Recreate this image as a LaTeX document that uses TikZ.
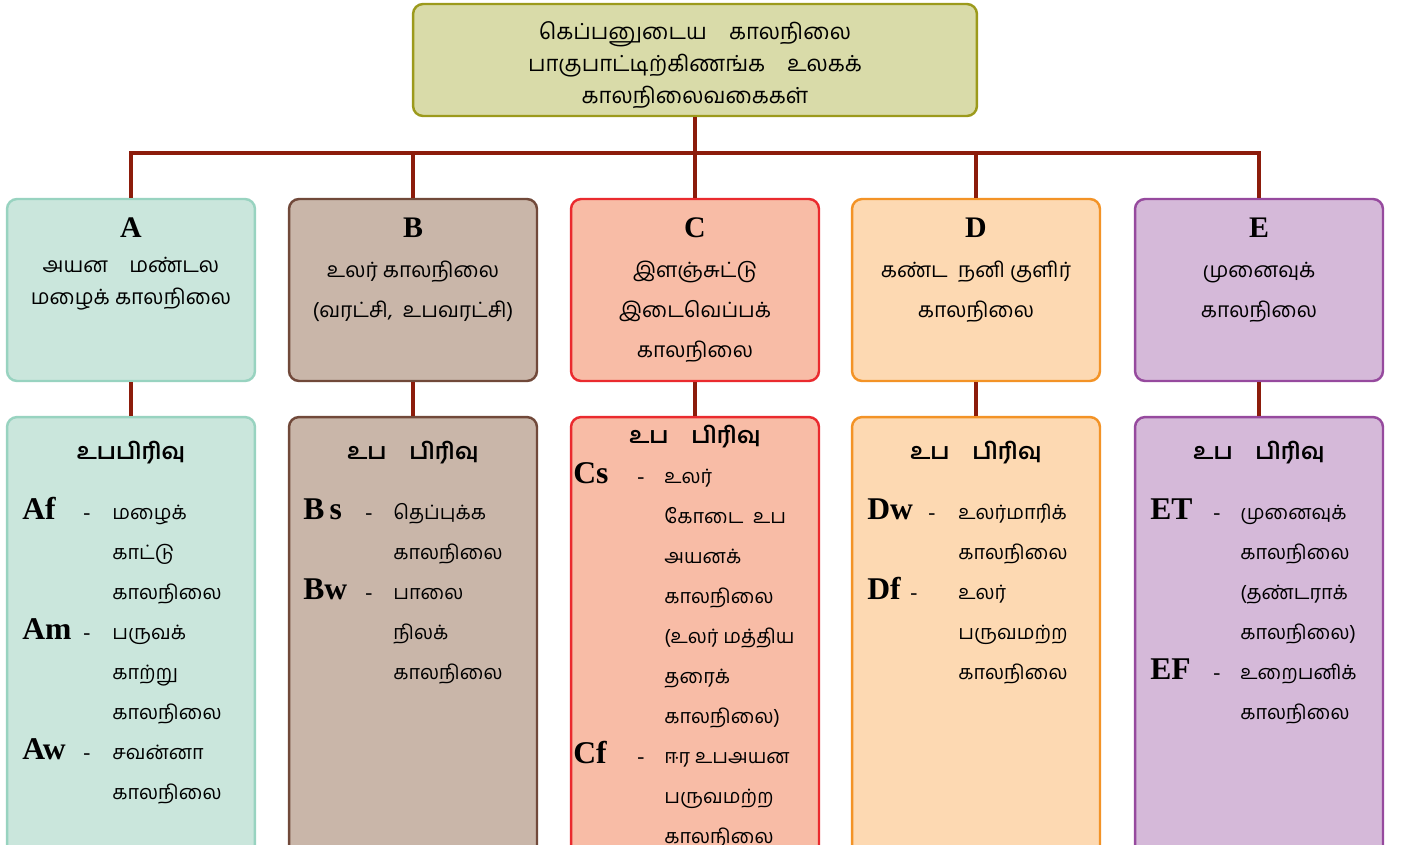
\documentclass[tikz,border=0pt]{standalone}
\usepackage{fontspec}
\setmainfont{Liberation Serif}
\newfontfamily\tamil[Script=Tamil]{Hind Madurai}
\usetikzlibrary{positioning}

\definecolor{topfill}{HTML}{D9DBA9}
\definecolor{topdraw}{HTML}{9C9A1C}
\definecolor{afill}{HTML}{CAE6DC}
\definecolor{adraw}{HTML}{98D3C0}
\definecolor{bfill}{HTML}{C9B6A9}
\definecolor{bdraw}{HTML}{71493A}
\definecolor{cfill}{HTML}{F8BCA6}
\definecolor{cdraw}{HTML}{EA2A2E}
\definecolor{dfill}{HTML}{FDD9B2}
\definecolor{ddraw}{HTML}{F39326}
\definecolor{efill}{HTML}{D5B9D9}
\definecolor{edraw}{HTML}{964A9E}
\definecolor{linkc}{HTML}{8C1C0B}

\tikzset{
  box/.style={draw, rounded corners=0.2cm, line width=1.4pt, minimum width=4.96cm},
  upper/.style={box, minimum height=3.64cm},
  lower/.style={box, minimum height=8.86cm},
  topbox/.style={draw=topdraw, fill=topfill, rounded corners=0.2cm, line width=1.4pt,
    minimum width=11.28cm, minimum height=2.24cm},
  toptxt/.style={inner sep=0pt, align=center, font=\tamil\fontsize{12.6}{18.1}\selectfont},
  link/.style={draw=linkc, line width=2.4pt},
  grouplbl/.style={inner sep=0pt, font=\bfseries\fontsize{17}{20}\selectfont},
  sublbl/.style={inner sep=0pt, font=\bfseries\fontsize{18}{20}\selectfont},
  hyph/.style={inner sep=0pt, font=\fontsize{12}{14}\selectfont},
  tamtight/.style={inner sep=0pt, align=center, font=\tamil\fontsize{12}{18.1}\selectfont},
  tamwide/.style={inner sep=0pt, align=center, font=\tamil\fontsize{12}{22.7}\selectfont},
  tamlist/.style={inner sep=0pt, align=left, font=\tamil\fontsize{11.3}{22.7}\selectfont},
  subhead/.style={inner sep=0pt, font=\tamil\bfseries\fontsize{13}{16}\selectfont}
}

\begin{document}
\begin{tikzpicture}[x=0.02cm, y=-0.02cm]
  \useasboundingbox (0,0) rectangle (1404,845);

  % Title
  \node[topbox] (top) at (695,60) {};
  \node[toptxt, anchor=base] (top-txt) at (695,103)
    {கெப்பனுடைய\quad காலநிலை\\பாகுபாட்டிற்கிணங்க\quad உலகக்\\காலநிலைவகைகள்};

  % Main groups
  \node[upper, fill=afill, draw=adraw] (a) at (131,290) {};
  \node[upper, fill=bfill, draw=bdraw] (b) at (413,290) {};
  \node[upper, fill=cfill, draw=cdraw] (c) at (695,290) {};
  \node[upper, fill=dfill, draw=ddraw] (d) at (976,290) {};
  \node[upper, fill=efill, draw=edraw] (e) at (1259,290) {};

  \node[grouplbl, anchor=base] (a-lbl) at (131,237) {A};
  \node[grouplbl, anchor=base] (b-lbl) at (413,237) {B};
  \node[grouplbl, anchor=base] (c-lbl) at (695,237) {C};
  \node[grouplbl, anchor=base] (d-lbl) at (976,237) {D};
  \node[grouplbl, anchor=base] (e-lbl) at (1259,237) {E};

  \node[tamtight, anchor=base] (a-txt) at (131,304) {அயன\quad மண்டல\\மழைக் காலநிலை};
  \node[tamwide, anchor=base] (b-txt) at (413,317) {உலர் காலநிலை\\(வரட்சி,\ \ உபவரட்சி)};
  \node[tamwide, anchor=base] (c-txt) at (695,357) {இளஞ்சுட்டு\\இடைவெப்பக்\\காலநிலை};
  \node[tamwide, anchor=base] (d-txt) at (976,317) {கண்ட\ \ நனி குளிர்\\காலநிலை};
  \node[tamwide, anchor=base] (e-txt) at (1259,317) {முனைவுக்\\காலநிலை};

  % Sub groups
  \node[lower, fill=afill, draw=adraw] (a2) at (131,638.5) {};
  \node[lower, fill=bfill, draw=bdraw] (b2) at (413,638.5) {};
  \node[lower, fill=cfill, draw=cdraw] (c2) at (695,638.5) {};
  \node[lower, fill=dfill, draw=ddraw] (d2) at (976,638.5) {};
  \node[lower, fill=efill, draw=edraw] (e2) at (1259,638.5) {};

  \node[subhead, anchor=base] (a2-hd) at (131,459) {உபபிரிவு};
  \node[subhead, anchor=base] (b2-hd) at (413,459) {உப\quad பிரிவு};
  \node[subhead, anchor=base] (c2-hd) at (695,443) {உப\quad பிரிவு};
  \node[subhead, anchor=base] (d2-hd) at (976,459) {உப\quad பிரிவு};
  \node[subhead, anchor=base] (e2-hd) at (1259,459) {உப\quad பிரிவு};

  % A (lists sit on the baseline of their last line)
  \node[sublbl, anchor=base west] (af) at (22,519) {Af};
  \node[hyph, anchor=base west] (af-d) at (83,519) {-};
  \node[tamlist, anchor=base west] (af-t) at (112,599) {மழைக்\\காட்டு\\காலநிலை};
  \node[sublbl, anchor=base west] (am) at (22,639) {Am};
  \node[hyph, anchor=base west] (am-d) at (83,639) {-};
  \node[tamlist, anchor=base west] (am-t) at (112,719) {பருவக்\\காற்று\\காலநிலை};
  \node[sublbl, anchor=base west] (aw) at (22,759) {Aw};
  \node[hyph, anchor=base west] (aw-d) at (83,759) {-};
  \node[tamlist, anchor=base west] (aw-t) at (112,799) {சவன்னா\\காலநிலை};

  % B
  \node[sublbl, anchor=base west] (bs) at (303,519) {B\,s};
  \node[hyph, anchor=base west] (bs-d) at (365,519) {-};
  \node[tamlist, anchor=base west] (bs-t) at (393,559) {தெப்புக்க\\காலநிலை};
  \node[sublbl, anchor=base west] (bw) at (303,599) {Bw};
  \node[hyph, anchor=base west] (bw-d) at (365,599) {-};
  \node[tamlist, anchor=base west] (bw-t) at (393,679) {பாலை\\நிலக்\\காலநிலை};

  % C
  \node[sublbl, anchor=base west] (cs) at (573,483) {Cs};
  \node[hyph, anchor=base west] (cs-d) at (637,483) {-};
  \node[tamlist, anchor=base west] (cs-t) at (664,723)
    {உலர்\\கோடை\ \ உப\\அயனக்\\காலநிலை\\(உலர் மத்திய\\தரைக்\\காலநிலை)};
  \node[sublbl, anchor=base west] (cf) at (573,763) {Cf};
  \node[hyph, anchor=base west] (cf-d) at (637,763) {-};
  \node[tamlist, anchor=base west] (cf-t) at (664,843) {ஈர உபஅயன\\பருவமற்ற\\காலநிலை};

  % D
  \node[sublbl, anchor=base west] (dw) at (867,519) {Dw};
  \node[hyph, anchor=base west] (dw-d) at (928,519) {-};
  \node[tamlist, anchor=base west] (dw-t) at (958,559) {உலர்மாரிக்\\காலநிலை};
  \node[sublbl, anchor=base west] (df) at (867,599) {Df};
  \node[hyph, anchor=base west] (df-d) at (910,599) {-};
  \node[tamlist, anchor=base west] (df-t) at (958,679) {உலர்\\பருவமற்ற\\காலநிலை};

  % E
  \node[sublbl, anchor=base west] (et) at (1150,519) {ET};
  \node[hyph, anchor=base west] (et-d) at (1213,519) {-};
  \node[tamlist, anchor=base west] (et-t) at (1240,639) {முனைவுக்\\காலநிலை\\(தண்டராக்\\காலநிலை)};
  \node[sublbl, anchor=base west] (ef) at (1150,679) {EF};
  \node[hyph, anchor=base west] (ef-d) at (1213,679) {-};
  \node[tamlist, anchor=base west] (ef-t) at (1240,719) {உறைபனிக்\\காலநிலை};

  % Links
  \coordinate (bus) at (695,153);
  \draw[link] (top.south) -- (bus);
  \draw[link] (a.north) |- (bus) -| (e.north);
  \draw[link] (b.north) -- (b.north |- bus);
  \draw[link] (c.north) -- (bus);
  \draw[link] (d.north) -- (d.north |- bus);
  \draw[link] (a.south) -- (a2.north);
  \draw[link] (b.south) -- (b2.north);
  \draw[link] (c.south) -- (c2.north);
  \draw[link] (d.south) -- (d2.north);
  \draw[link] (e.south) -- (e2.north);
\end{tikzpicture}
\end{document}
